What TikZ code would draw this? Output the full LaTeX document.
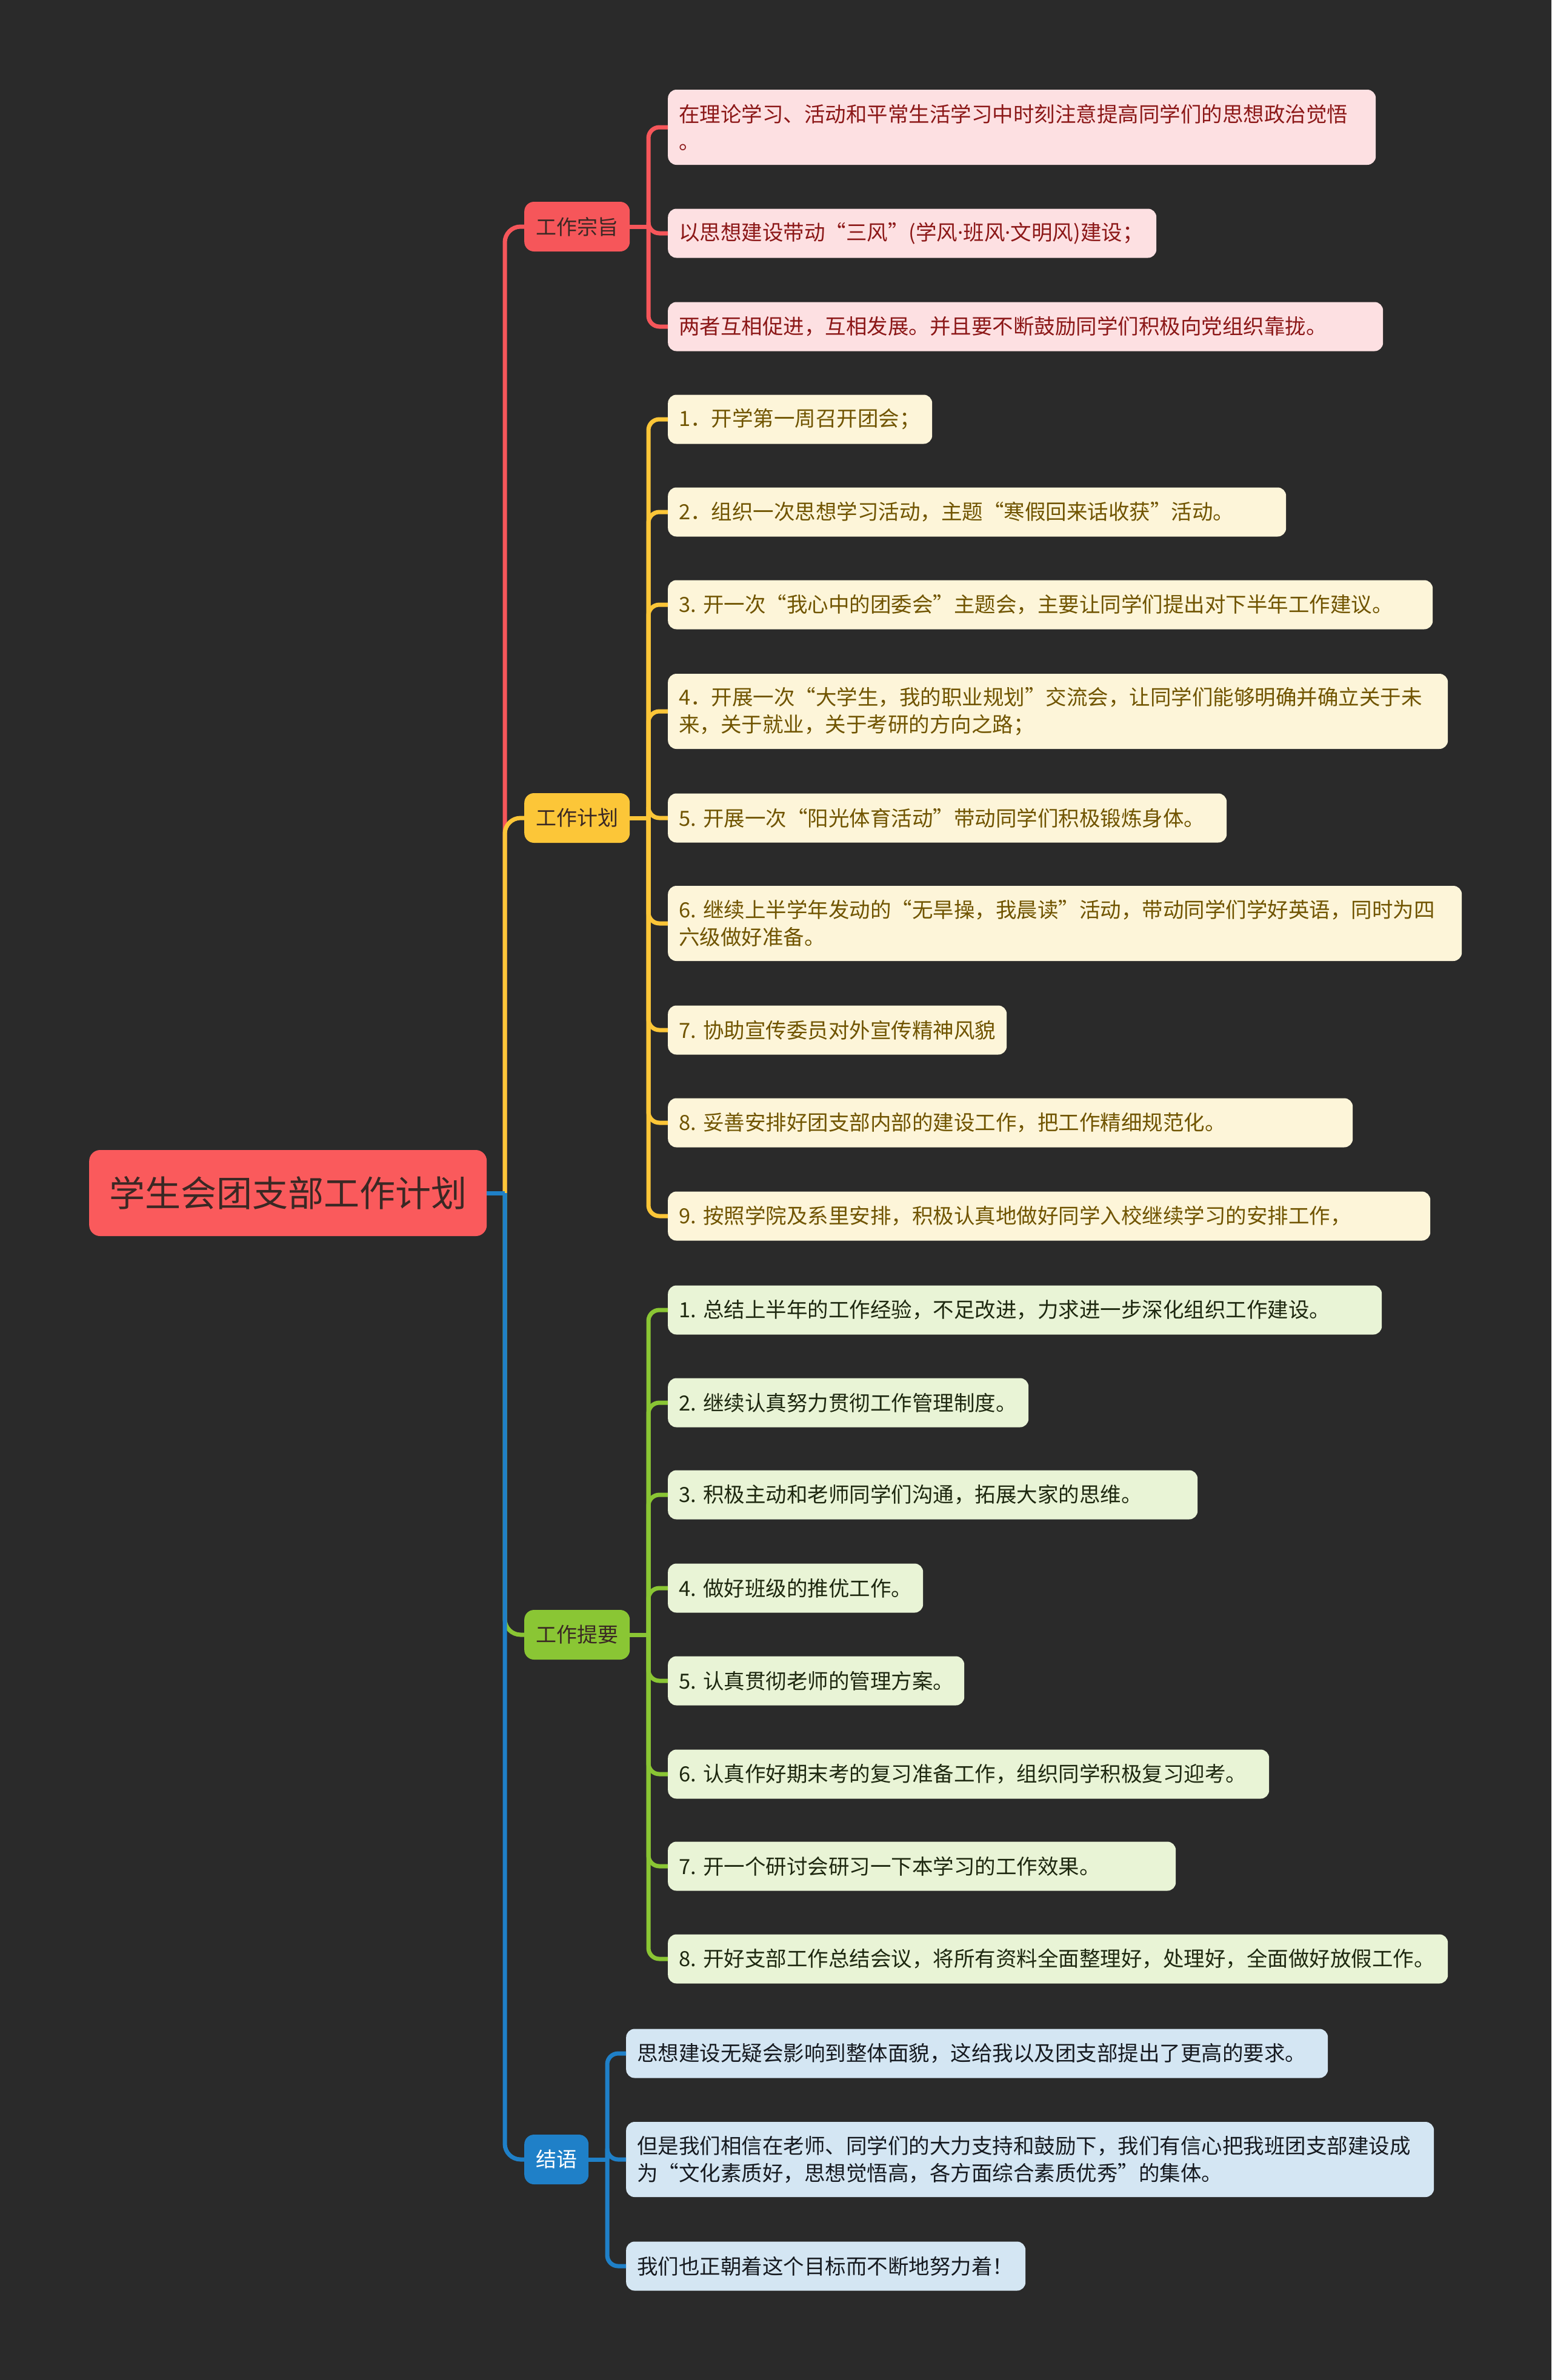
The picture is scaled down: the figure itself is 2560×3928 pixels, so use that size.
\documentclass[tikz,border=0pt]{standalone}
\usepackage{fontspec}
\setmainfont{Noto Sans CJK SC}
\newfontfamily\latinfont{Noto Sans}
\usepackage{xcolor}
\definecolor{boardgrey}{RGB}{42,42,42}
\definecolor{rootred}{RGB}{250,90,92}
\definecolor{aimred}{RGB}{246,86,90}
\definecolor{aimpink}{RGB}{253,224,226}
\definecolor{aimtext}{RGB}{140,24,24}
\definecolor{planyellow}{RGB}{252,198,56}
\definecolor{plancream}{RGB}{253,245,217}
\definecolor{plantext}{RGB}{112,84,0}
\definecolor{keygreen}{RGB}{138,198,52}
\definecolor{keylight}{RGB}{233,244,214}
\definecolor{keytext}{RGB}{30,40,16}
\definecolor{endblue}{RGB}{31,128,200}
\definecolor{endlight}{RGB}{212,230,243}
\definecolor{endtext}{RGB}{22,26,32}
\definecolor{inkbrown}{RGB}{58,40,36}
\newcommand{\middot}{{\latinfont ·}}

\tikzset{
  leafbox/.style={anchor=west, rounded corners=14pt, inner xsep=18pt, inner ysep=0pt,
    minimum height=81pt, align=left, font=\fontsize{34.5}{45}\selectfont},
  twoline/.style={minimum height=124pt},
  topicbox/.style={anchor=west, rounded corners=16pt, inner xsep=19pt, inner ysep=0pt,
    minimum height=82pt, font=\fontsize{34}{45}\selectfont, text=inkbrown},
  link/.style={line width=7pt},
}

\begin{document}
\begin{tikzpicture}[x=1pt, y=-1pt]
  % Board
  \fill[boardgrey] (0,0) rectangle (2560,3928);
  \useasboundingbox (0,0) rectangle (2560,3928);

  % Root and branches
  \node[topicbox, fill=rootred, inner xsep=33pt, minimum height=142pt,
    rounded corners=18pt, font=\fontsize{59}{70}\selectfont] (root) at (147,1969) {学生会团支部工作计划};
  \node[topicbox, fill=aimred] (aim) at (865,374) {工作宗旨};
  \node[topicbox, fill=planyellow] (plan) at (865,1350) {工作计划};
  \node[topicbox, fill=keygreen] (key) at (865,2698) {工作提要};
  \node[topicbox, fill=endblue, text=white] (ending) at (865,3564) {结语};

  % Aim leaves
  \node[leafbox, fill=aimpink, text=aimtext, twoline, text width=1132pt] (aim1) at (1102,210)
    {在理论学习、活动和平常生活学习中时刻注意提高同学们的思想政治觉悟\\。};
  \node[leafbox, fill=aimpink, text=aimtext, text width=770pt] (aim2) at (1102,385)
    {以思想建设带动“三风”(学风\middot 班风\middot 文明风)建设；};
  \node[leafbox, fill=aimpink, text=aimtext, text width=1144pt] (aim3) at (1102,539)
    {两者互相促进，互相发展。并且要不断鼓励同学们积极向党组织靠拢。};

  % Plan leaves
  \node[leafbox, fill=plancream, text=plantext, text width=400pt] (plan1) at (1102,692)
    {1．开学第一周召开团会；};
  \node[leafbox, fill=plancream, text=plantext, text width=984pt] (plan2) at (1102,845)
    {2．组织一次思想学习活动，主题“寒假回来话收获”活动。};
  \node[leafbox, fill=plancream, text=plantext, text width=1226pt] (plan3) at (1102,998)
    {3.~开一次“我心中的团委会”主题会，主要让同学们提出对下半年工作建议。};
  \node[leafbox, fill=plancream, text=plantext, twoline, text width=1251pt] (plan4) at (1102,1174)
    {4．开展一次“大学生，我的职业规划”交流会，让同学们能够明确并确立关于未\\来，关于就业，关于考研的方向之路；};
  \node[leafbox, fill=plancream, text=plantext, text width=886pt] (plan5) at (1102,1350)
    {5.~开展一次“阳光体育活动”带动同学们积极锻炼身体。};
  \node[leafbox, fill=plancream, text=plantext, twoline, text width=1274pt] (plan6) at (1102,1524)
    {6.~继续上半学年发动的“无旱操，我晨读”活动，带动同学们学好英语，同时为四\\六级做好准备。};
  \node[leafbox, fill=plancream, text=plantext, text width=523pt] (plan7) at (1102,1700)
    {7.~协助宣传委员对外宣传精神风貌};
  \node[leafbox, fill=plancream, text=plantext, text width=1094pt] (plan8) at (1102,1853)
    {8.~妥善安排好团支部内部的建设工作，把工作精细规范化。};
  \node[leafbox, fill=plancream, text=plantext, text width=1222pt] (plan9) at (1102,2007)
    {9.~按照学院及系里安排，积极认真地做好同学入校继续学习的安排工作，};

  % Key point leaves
  \node[leafbox, fill=keylight, text=keytext, text width=1142pt] (key1) at (1102,2162)
    {1.~总结上半年的工作经验，不足改进，力求进一步深化组织工作建设。};
  \node[leafbox, fill=keylight, text=keytext, text width=559pt] (key2) at (1102,2315)
    {2.~继续认真努力贯彻工作管理制度。};
  \node[leafbox, fill=keylight, text=keytext, text width=838pt] (key3) at (1102,2467)
    {3.~积极主动和老师同学们沟通，拓展大家的思维。};
  \node[leafbox, fill=keylight, text=keytext, text width=385pt] (key4) at (1102,2621)
    {4.~做好班级的推优工作。};
  \node[leafbox, fill=keylight, text=keytext, text width=453pt] (key5) at (1102,2774)
    {5.~认真贯彻老师的管理方案。};
  \node[leafbox, fill=keylight, text=keytext, text width=956pt] (key6) at (1102,2928)
    {6.~认真作好期末考的复习准备工作，组织同学积极复习迎考。};
  \node[leafbox, fill=keylight, text=keytext, text width=802pt] (key7) at (1102,3080)
    {7.~开一个研讨会研习一下本学习的工作效果。};
  \node[leafbox, fill=keylight, text=keytext, text width=1251pt] (key8) at (1102,3233)
    {8.~开好支部工作总结会议，将所有资料全面整理好，处理好，全面做好放假工作。};

  % Closing leaves
  \node[leafbox, fill=endlight, text=endtext, text width=1122pt] (ending1) at (1033,3389)
    {思想建设无疑会影响到整体面貌，这给我以及团支部提出了更高的要求。};
  \node[leafbox, fill=endlight, text=endtext, twoline, text width=1297pt] (ending2) at (1033,3564)
    {但是我们相信在老师、同学们的大力支持和鼓励下，我们有信心把我班团支部建设成\\为“文化素质好，思想觉悟高，各方面综合素质优秀”的集体。};
  \node[leafbox, fill=endlight, text=endtext, text width=623pt] (ending3) at (1033,3740)
    {我们也正朝着这个目标而不断地努力着！};

  % Trunk
  \coordinate (trunk) at (833,1969);
  \draw[link, aimred, rounded corners=26pt] (trunk) |- (aim.west);
  \draw[link, planyellow, rounded corners=26pt] (trunk) |- (plan.west);
  \draw[link, keygreen, rounded corners=26pt] (trunk) |- (key.west);
  \draw[link, endblue, rounded corners=26pt] (trunk) |- (ending.west);
  \draw[link, endblue] (root.east) -- (trunk);

  % Branch hubs
  \coordinate (aimhub) at (1070,374);
  \coordinate (planhub) at (1070,1350);
  \coordinate (keyhub) at (1070,2698);
  \coordinate (endinghub) at (1002,3564);
  \draw[link, aimred] (aim.east) -- (aimhub);
  \draw[link, planyellow] (plan.east) -- (planhub);
  \draw[link, keygreen] (key.east) -- (keyhub);
  \draw[link, endblue] (ending.east) -- (endinghub);
  \foreach \n in {1,2,3}
    \draw[link, aimred, rounded corners=18pt] (aimhub) |- (aim\n.west);
  \foreach \n in {1,...,9}
    \draw[link, planyellow, rounded corners=18pt] (planhub) |- (plan\n.west);
  \foreach \n in {1,...,8}
    \draw[link, keygreen, rounded corners=18pt] (keyhub) |- (key\n.west);
  \foreach \n in {1,2,3}
    \draw[link, endblue, rounded corners=18pt] (endinghub) |- (ending\n.west);
\end{tikzpicture}
\end{document}
